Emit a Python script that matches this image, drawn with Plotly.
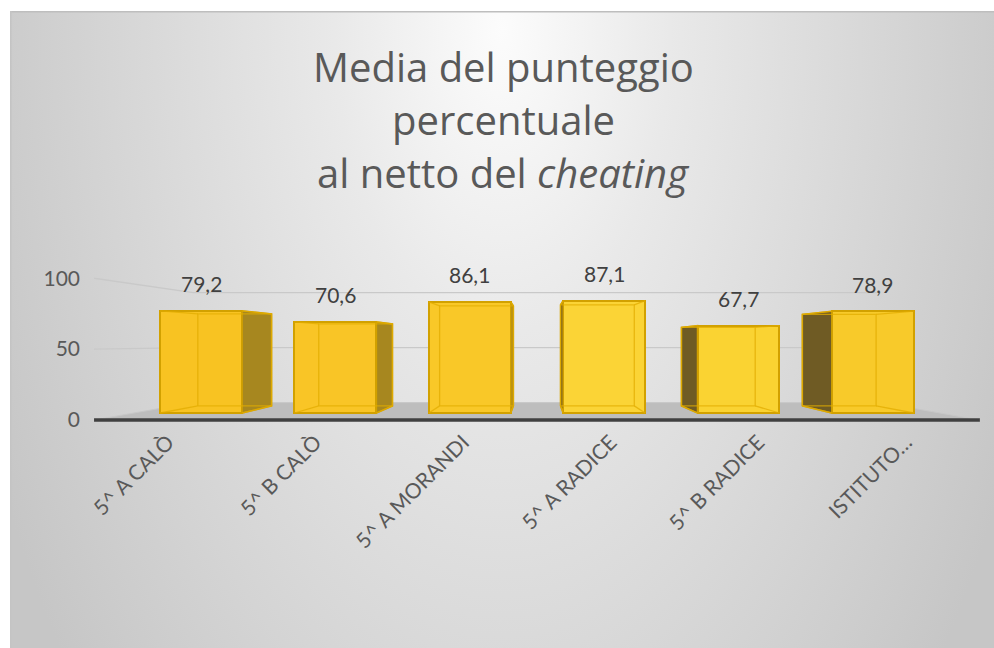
import base64
import plotly.graph_objects as go

# ---------------- data ----------------
categories = ["5^ A CALÒ", "5^ B CALÒ", "5^ A MORANDI", "5^ A RADICE", "5^ B RADICE", "ISTITUTO…"]
values = [79.2, 70.6, 86.1, 87.1, 67.7, 78.9]
y_ticks = [0, 50, 100]
y_tick_labels = ["0", "50", "100"]
title_lines = ["Media del punteggio", "percentuale", "al netto del <i>cheating</i>"]

# ---------------- style ----------------
BAR_FILL = ["#F8C322", "#F9C526", "#F9C828", "#FBD436", "#FAD332", "#F8CA2A"]
BAR_EDGE = "#D2A100"
SIDE_RIGHT = "#A7871F"
SIDE_LEFT = "#6F5B24"
FONT = "Lato"
TITLE_FONT = "Open Sans"

# perspective (in data units of the bar plane)
XV, YV = 2.5, 55.0
R_FRONT, R_BACK, R_WALL = 1.099, 0.90, 0.853
HALF_W = 0.305


def proj(x, y, r):
    return XV + r * (x - XV), YV + r * (y - YV)


def fmt(v):
    return f"{v:.1f}".replace(".", ",")


n = len(categories)
idx = list(range(n))
x_lo, x_hi = -0.5, n - 0.5

fig = go.Figure()

# side faces
for i, v in enumerate(values):
    if i < XV:
        ex, col = i + HALF_W, SIDE_RIGHT
    else:
        ex, col = i - HALF_W, SIDE_LEFT
    pts = [(ex, 0, 1.0), (ex, v, 1.0), (ex, v, R_BACK), (ex, 0, R_BACK)]
    xs, ys = [], []
    for (px, py, r) in pts:
        a, b = proj(px, py, r)
        xs.append(a)
        ys.append(b)
    xs.append(xs[0]); ys.append(ys[0])
    fig.add_trace(go.Scatter(x=xs, y=ys, mode="lines", fill="toself", fillcolor=col,
                             line=dict(color=BAR_EDGE, width=1.5), hoverinfo="skip", showlegend=False))

# front faces
fig.add_trace(go.Bar(x=idx, y=values, width=2 * HALF_W,
                     marker=dict(color=BAR_FILL, line=dict(color=BAR_EDGE, width=2)),
                     hoverinfo="skip", showlegend=False))

# inner (see-through) edges
for i, v in enumerate(values):
    l, rr = i - HALF_W, i + HALF_W
    corners = [(l, 0), (rr, 0), (rr, v), (l, v)]
    back = [proj(cx, cy, R_BACK) for cx, cy in corners]
    xs, ys = [], []
    for k in range(5):
        xs.append(back[k % 4][0]); ys.append(back[k % 4][1])
    xs.append(None); ys.append(None)
    for (cx, cy), (bx, by) in zip(corners, back):
        xs += [cx, bx, None]
        ys += [cy, by, None]
    fig.add_trace(go.Scatter(x=xs, y=ys, mode="lines",
                             line=dict(color="rgba(226,172,0,0.75)", width=1.3),
                             hoverinfo="skip", showlegend=False))

# floor, walls, gridlines as shapes
shapes = []
fl = [proj(x_lo, 0, R_FRONT), proj(x_hi, 0, R_FRONT), proj(x_hi, 0, R_WALL), proj(x_lo, 0, R_WALL)]
path = "M " + " L ".join(f"{a},{b}" for a, b in fl) + " Z"
shapes.append(dict(type="path", path=path, xref="x", yref="y", fillcolor="#BDBDBD",
                   line=dict(color="#C8C8C8", width=1), layer="below"))
for v in y_ticks[1:]:
    a0, b0 = proj(x_lo, v, R_FRONT)
    a1, b1 = proj(x_lo, v, R_WALL)
    a2, b2 = proj(x_hi, v, R_WALL)
    shapes.append(dict(type="path", path=f"M {a0},{b0} L {a1},{b1} L {a2},{b2}", xref="x", yref="y",
                       line=dict(color="#C9C9C9", width=1.3), layer="below"))
a0, b0 = proj(x_lo, 0, R_FRONT)
a1, b1 = proj(x_hi, 0, R_FRONT)
shapes.append(dict(type="line", x0=a0, y0=b0, x1=a1, y1=b1, xref="x", yref="y",
                   line=dict(color="#404040", width=3.5), layer="above"))

W, H = 994, 648
L, R, T, B = 88, 14, 260, 223
pw, ph = W - L - R, H - T - B
x_range = [-0.842, -0.842 + pw / 134.34]
y_range = [-9.3, -9.3 + ph / 1.29]

# data labels
annotations = []
for i, v in enumerate(values):
    annotations.append(dict(x=i, y=v, xref="x", yref="y", text=fmt(v), showarrow=False,
                            yshift=27, font=dict(family=FONT, size=21, color="#404040")))

# title lines
title_centers_px = [66, 119, 172]
for txt, cy in zip(title_lines, title_centers_px):
    annotations.append(dict(x=(503 - L) / pw, y=(H - B - cy) / ph, xref="paper", yref="paper",
                            xanchor="center", yanchor="middle", text=txt, showarrow=False,
                            font=dict(family=TITLE_FONT, size=40, color="#595959")))

# background gradient (SVG)
svg = (
    '<svg xmlns="http://www.w3.org/2000/svg" width="984" height="637" viewBox="0 0 984 637" preserveAspectRatio="none">'
    '<defs><radialGradient id="g" gradientUnits="userSpaceOnUse" cx="492" cy="20" r="560" '
    'gradientTransform="translate(492 20) scale(1 1.8) translate(-492 -20)">'
    '<stop offset="0" stop-color="#FCFCFC"/><stop offset="0.3" stop-color="#E9E9E9"/>'
    '<stop offset="1" stop-color="#C6C6C6"/></radialGradient></defs>'
    '<rect x="0" y="0" width="984" height="637" fill="url(#g)"/>'
    '<line x1="0" y1="0.8" x2="984" y2="0.8" stroke="#BEBEBE" stroke-width="1.6"/>'
    '<line x1="0.8" y1="0" x2="0.8" y2="637" stroke="#C4C4C4" stroke-width="1.6"/>'
    '</svg>'
)
src = "data:image/svg+xml;base64," + base64.b64encode(svg.encode()).decode()

fig.add_layout_image(dict(source=src, xref="paper", yref="paper",
                          x=(10 - L) / pw, y=(H - B - 11) / ph,
                          sizex=(W - 10) / pw, sizey=(H - 11) / ph,
                          xanchor="left", yanchor="top", sizing="stretch", layer="below"))

fig.update_layout(
    width=W, height=H,
    margin=dict(l=L, r=R, t=T, b=B, autoexpand=False),
    paper_bgcolor="white", plot_bgcolor="rgba(0,0,0,0)",
    shapes=shapes, annotations=annotations,
    bargap=0, showlegend=False,
    font=dict(family=FONT, color="#595959"),
)
fig.update_xaxes(range=x_range, tickvals=[proj(i, 0, R_FRONT)[0] for i in idx], ticktext=categories,
                 tickangle=-45, showgrid=False, zeroline=False, showline=False, ticks="",
                 tickfont=dict(family=FONT, size=21, color="#595959"), automargin=False, fixedrange=True)
fig.update_yaxes(range=y_range, tickvals=[proj(0, v, R_FRONT)[1] for v in y_ticks], ticktext=y_tick_labels,
                 showgrid=False, zeroline=False, showline=False, ticks="", ticklabelstandoff=7,
                 tickfont=dict(family=FONT, size=21, color="#595959"), automargin=False, fixedrange=True)

fig.write_html("out.html", config={"displayModeBar": False},
               post_script="document.body.style.margin='0px';document.body.style.overflow='hidden';")
